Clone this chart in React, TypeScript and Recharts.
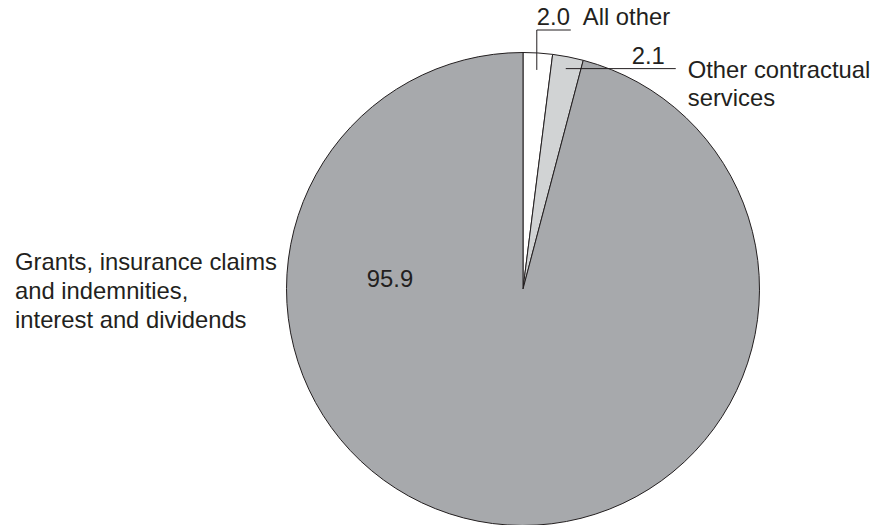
import React from "react";
import { PieChart, Pie, Cell } from "recharts";

const categories = ["All other", "Other contractual services", "Grants, insurance claims and indemnities, interest and dividends"];
const values = [2.0, 2.1, 95.9];
const valueLabels = ["2.0", "2.1", "95.9"];
const nameLines = [["All other"], ["Other contractual", "services"], ["Grants, insurance claims", "and indemnities,", "interest and dividends"]];
const colors = ["#ffffff", "#d1d3d4", "#a7a9ac"];

const data = categories.map((name, i) => ({ name, value: values[i] }));

const FONT = "'Liberation Sans', Arial, Helvetica, sans-serif";
const INK = "#231f20";
const RAD = Math.PI / 180;

function renderLabel(props: any) {
  const { cx, cy, midAngle, outerRadius, index } = props;
  const fs = 23.8;
  if (index === 0) {
    const r0 = outerRadius - 17;
    const x0 = cx + r0 * Math.cos(midAngle * RAD);
    const y0 = cy - r0 * Math.sin(midAngle * RAD);
    const yTop = cy - outerRadius - 22.5;
    const x1 = x0 + 34;
    return (
      <g>
        <polyline points={`${x0},${y0} ${x0},${yTop} ${x1},${yTop}`} fill="none" stroke={INK} strokeWidth={1} />
        <text x={x0} y={yTop - 5} fontFamily={FONT} fontSize={fs} fill={INK}>{valueLabels[0]}</text>
        <text x={x1 + 12} y={yTop - 5} fontFamily={FONT} fontSize={fs} fill={INK}>{nameLines[0][0]}</text>
      </g>
    );
  }
  if (index === 1) {
    const r0 = outerRadius - 12;
    const x0 = cx + r0 * Math.cos(midAngle * RAD);
    const y0 = cy - r0 * Math.sin(midAngle * RAD);
    const x1 = x0 + 110;
    return (
      <g>
        <line x1={x0} y1={y0} x2={x1} y2={y0} stroke={INK} strokeWidth={1} />
        <text x={x1 - 11} y={y0 - 5} textAnchor="end" fontFamily={FONT} fontSize={fs} fill={INK}>{valueLabels[1]}</text>
        <text x={x1 + 12} y={y0 + 9} fontFamily={FONT} fontSize={fs} fill={INK}>
          <tspan x={x1 + 12} dy={0}>{nameLines[1][0]}</tspan>
          <tspan x={x1 + 12} dy={28}>{nameLines[1][1]}</tspan>
        </text>
      </g>
    );
  }
  return (
    <g>
      <text x={cx - 133} y={cy - 2} textAnchor="middle" fontFamily={FONT} fontSize={fs} fill={INK}>{valueLabels[2]}</text>
      <text x={15} y={cy - 19} fontFamily={FONT} fontSize={fs} fill={INK}>
        {nameLines[2].map((l, i) => (
          <tspan key={i} x={15} dy={i === 0 ? 0 : 29}>{l}</tspan>
        ))}
      </text>
    </g>
  );
}

export default function App() {
  return (
    <div style={{ position: "absolute", left: 0, top: 0, width: 882, height: 525, background: "#fff" }}>
      <PieChart width={882} height={525} margin={{ top: 0, right: 0, bottom: 0, left: 0 }}>
        <Pie
          data={data}
          dataKey="value"
          nameKey="name"
          cx={523}
          cy={289}
          outerRadius={236.5}
          startAngle={90}
          endAngle={-270}
          stroke={INK}
          strokeWidth={1}
          label={renderLabel}
          labelLine={false}
          isAnimationActive={false}
        >
          {data.map((d, i) => (
            <Cell key={d.name} fill={colors[i]} stroke={INK} strokeWidth={1} />
          ))}
        </Pie>
      </PieChart>
    </div>
  );
}
